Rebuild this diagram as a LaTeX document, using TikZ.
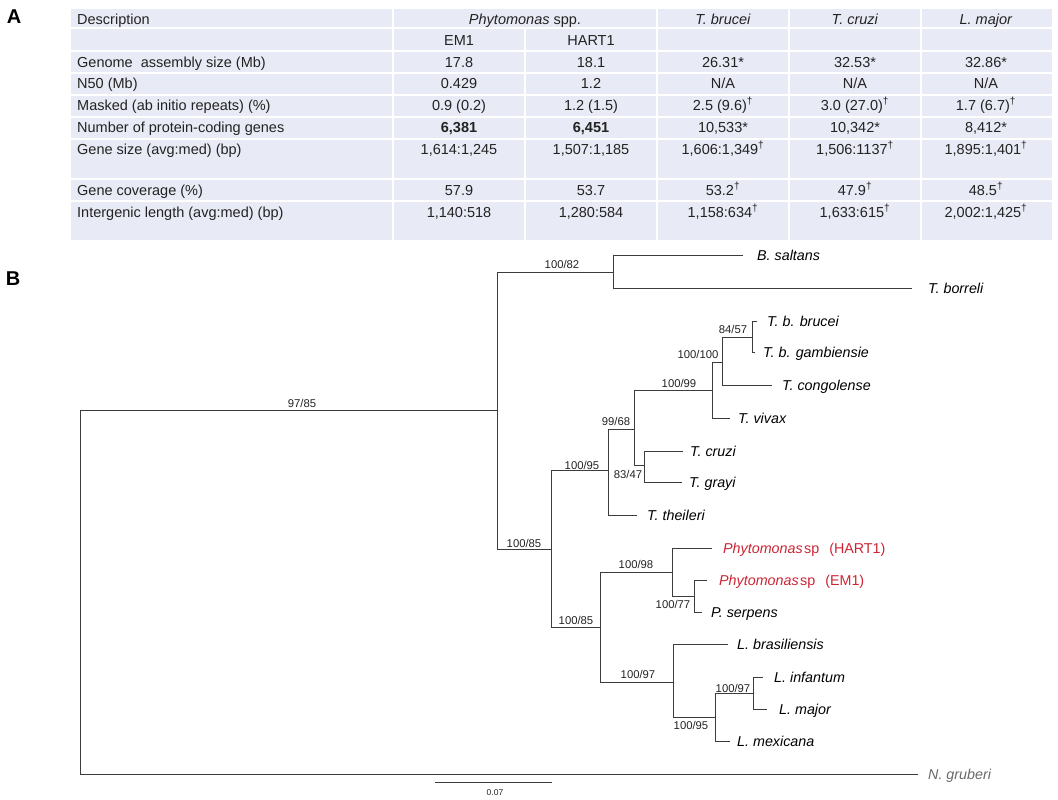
\documentclass[tikz,border=0pt]{standalone}
\usepackage{fontspec}
\setmainfont{Liberation Sans}
\usepackage{tikz}
\usetikzlibrary{positioning}
\definecolor{cellfill}{RGB}{232,235,245}
\definecolor{celltext}{RGB}{35,35,35}
\definecolor{phyred}{RGB}{204,36,52}
\definecolor{outgray}{RGB}{105,105,105}
\definecolor{branchgray}{RGB}{60,60,60}
\tikzset{
  cell/.style={inner sep=0pt, text height=10.4pt, text depth=0pt,
    text=celltext, font=\fontsize{14.5}{16}\selectfont},
  celldesc/.style={cell, anchor=west},
  leaf/.style={inner sep=0pt, text height=10.2pt, text depth=0pt,
    font=\fontsize{14.3}{16}\selectfont\itshape},
  boot/.style={inner sep=0pt, text height=8.1pt, text depth=0pt,
    text=celltext, font=\fontsize{11.3}{13}\selectfont},
  branch/.style={line width=1pt, color=branchgray},
  gridline/.style={line width=2pt, color=white},
  panel/.style={inner sep=0pt, font=\fontsize{20}{22}\selectfont\bfseries}
}
\newcommand{\sdag}{\textsuperscript{\dag}}
% one table row: y, name, description, EM1, HART1, T. brucei, T. cruzi, L. major
\newcommand{\datarow}[8]{%
  \node[celldesc] (#2-d) at (77,#1) {#3};
  \node[cell] (#2-em) at (459,#1) {#4};
  \node[cell] (#2-ha) at (591,#1) {#5};
  \node[cell] (#2-tb) at (723,#1) {#6};
  \node[cell] (#2-tc) at (855,#1) {#7};
  \node[cell] (#2-lm) at (986,#1) {#8};
}
\begin{document}
\begin{tikzpicture}[x=1pt, y=-1pt]
  \useasboundingbox (0,0) rectangle (1058,800);

  % ── Panel letters ──────────────────────────────────────────────────────────
  \node[panel] (lblA) at (14,17) {A};
  \node[panel] (lblB) at (13,279) {B};

  % ── Genome table (A) ───────────────────────────────────────────────────────
  \fill[cellfill] (71,9) rectangle (1052,240);
  \foreach \yy in {28,51,73,95,117,139,179,201}
    \draw[gridline] (71,\yy) -- (1052,\yy);
  \foreach \xx in {393,657,789,921}
    \draw[gridline] (\xx,9) -- (\xx,240);
  \draw[gridline] (525,28) -- (525,240);
  % Header rows
  \node[celldesc] (hdr-d) at (77,19) {Description};
  \node[cell] (hdr-phy) at (525,19) {\textit{Phytomonas} spp.};
  \node[cell] (hdr-tb) at (723,19) {\textit{T. brucei}};
  \node[cell] (hdr-tc) at (855,19) {\textit{T. cruzi}};
  \node[cell] (hdr-lm) at (986,19) {\textit{L. major}};
  \node[cell] (sub-em) at (459,40) {EM1};
  \node[cell] (sub-ha) at (591,40) {HART1};
  % Data rows
  \datarow{62}{gas}{Genome~ assembly size (Mb)}{17.8}{18.1}{26.31*}{32.53*}{32.86*}
  \datarow{83}{n50}{N50 (Mb)}{0.429}{1.2}{N/A}{N/A}{N/A}
  \datarow{105}{msk}{Masked (ab initio repeats) (\%)}{0.9 (0.2)}{1.2 (1.5)}{2.5 (9.6)\sdag}{3.0 (27.0)\sdag}{1.7 (6.7)\sdag}
  \datarow{127}{pcg}{Number of protein-coding genes}{\textbf{6,381}}{\textbf{6,451}}{10,533*}{10,342*}{8,412*}
  \datarow{149}{gsz}{Gene size (avg:med) (bp)}{1,614:1,245}{1,507:1,185}{1,606:1,349\sdag}{1,506:1137\sdag}{1,895:1,401\sdag}
  \datarow{190}{gcv}{Gene coverage (\%)}{57.9}{53.7}{53.2\sdag}{47.9\sdag}{48.5\sdag}
  \datarow{212}{igl}{Intergenic length (avg:med) (bp)}{1,140:518}{1,280:584}{1,158:634\sdag}{1,633:615\sdag}{2,002:1,425\sdag}

  % ── Phylogeny (B) ──────────────────────────────────────────────────────────
  % Internal nodes
  \coordinate (R) at (80,592);
  \coordinate (A) at (497,410);
  \coordinate (B) at (613,272);
  \coordinate (C) at (551,549);
  \coordinate (D) at (608,470);
  \coordinate (E) at (634,429);
  \coordinate (F) at (712,390);
  \coordinate (G) at (722,362);
  \coordinate (H) at (752,337);
  \coordinate (I) at (644,465);
  \coordinate (J) at (600,627);
  \coordinate (K) at (672,572);
  \coordinate (L) at (694,596);
  \coordinate (M) at (673,682);
  \coordinate (N) at (715,717);
  \coordinate (O) at (753,693);
  % Branch tips
  \coordinate (tBsal) at (743,255);
  \coordinate (tTbor) at (912,288);
  \coordinate (tTbb) at (757,321);
  \coordinate (tTbg) at (755,352);
  \coordinate (tTcon) at (772,385);
  \coordinate (tTviv) at (730,418);
  \coordinate (tTcru) at (683,451);
  \coordinate (tTgra) at (682,482);
  \coordinate (tTthe) at (637,515);
  \coordinate (tPH) at (712,548);
  \coordinate (tPE) at (707,580);
  \coordinate (tPser) at (702,612);
  \coordinate (tLbra) at (728,644);
  \coordinate (tLinf) at (763,677);
  \coordinate (tLmaj) at (767,709);
  \coordinate (tLmex) at (730,741);
  \coordinate (tNgru) at (918,774);
  % Branches
  \foreach \p/\c in {R/A, R/tNgru, A/B, A/C, B/tBsal, B/tTbor, C/D, C/J,
      D/E, D/tTthe, E/F, E/I, F/G, F/tTviv, G/H, G/tTcon, H/tTbb, H/tTbg,
      I/tTcru, I/tTgra, J/K, J/M, K/tPH, K/L, L/tPE, L/tPser,
      M/tLbra, M/N, N/O, N/tLmex, O/tLinf, O/tLmaj}
    \draw[branch] (\p) |- (\c);
  % Taxa
  \node[leaf, right=14pt of tBsal] (Bsal) {B. saltans};
  \node[leaf, right=16pt of tTbor] (Tbor) {T. borreli};
  \node[leaf, right=10pt of tTbb] (Tbb) {T. b. brucei};
  \node[leaf, right=8pt of tTbg] (Tbg) {T. b. gambiensie};
  \node[leaf, right=10pt of tTcon] (Tcon) {T. congolense};
  \node[leaf, right=8pt of tTviv] (Tviv) {T. vivax};
  \node[leaf, right=7pt of tTcru] (Tcru) {T. cruzi};
  \node[leaf, right=7pt of tTgra] (Tgra) {T. grayi};
  \node[leaf, right=10pt of tTthe] (Tthe) {T. theileri};
  \node[leaf, right=11pt of tPH, text=phyred] (PH) {Phytomonas\hspace{1.5pt}\upshape sp\hspace{10pt}(HART1)};
  \node[leaf, right=12pt of tPE, text=phyred] (PE) {Phytomonas\hspace{1.5pt}\upshape sp\hspace{10pt}(EM1)};
  \node[leaf, right=9pt of tPser] (Pser) {P. serpens};
  \node[leaf, right=9pt of tLbra] (Lbra) {L. brasiliensis};
  \node[leaf, right=11pt of tLinf] (Linf) {L. infantum};
  \node[leaf, right=12pt of tLmaj] (Lmaj) {L. major};
  \node[leaf, right=7pt of tLmex] (Lmex) {L. mexicana};
  \node[leaf, right=10pt of tNgru, text=outgray] (Ngru) {N. gruberi};
  % Bootstrap support
  \node[boot] (bsA) at (302,403) {97/85};
  \node[boot] (bsB) at (562,264) {100/82};
  \node[boot] (bsC) at (524,543) {100/85};
  \node[boot] (bsD) at (582,465) {100/95};
  \node[boot] (bsE) at (616,421) {99/68};
  \node[boot] (bsF) at (679,383) {100/99};
  \node[boot] (bsG) at (698,354) {100/100};
  \node[boot] (bsH) at (733,329) {84/57};
  \node[boot] (bsI) at (628,474) {83/47};
  \node[boot] (bsJ) at (576,620) {100/85};
  \node[boot] (bsK) at (636,564) {100/98};
  \node[boot] (bsL) at (673,604) {100/77};
  \node[boot] (bsM) at (638,674) {100/97};
  \node[boot] (bsN) at (691,725) {100/95};
  \node[boot] (bsO) at (733,688) {100/97};
  % Scale bar
  \coordinate (sbL) at (435,782);
  \coordinate (sbR) at (552,782);
  \draw[branch] (sbL) -- (sbR);
  \node[inner sep=0pt, text=celltext, font=\fontsize{8.5}{10}\selectfont] (sbLbl) at (495,793) {0.07};
\end{tikzpicture}
\end{document}
